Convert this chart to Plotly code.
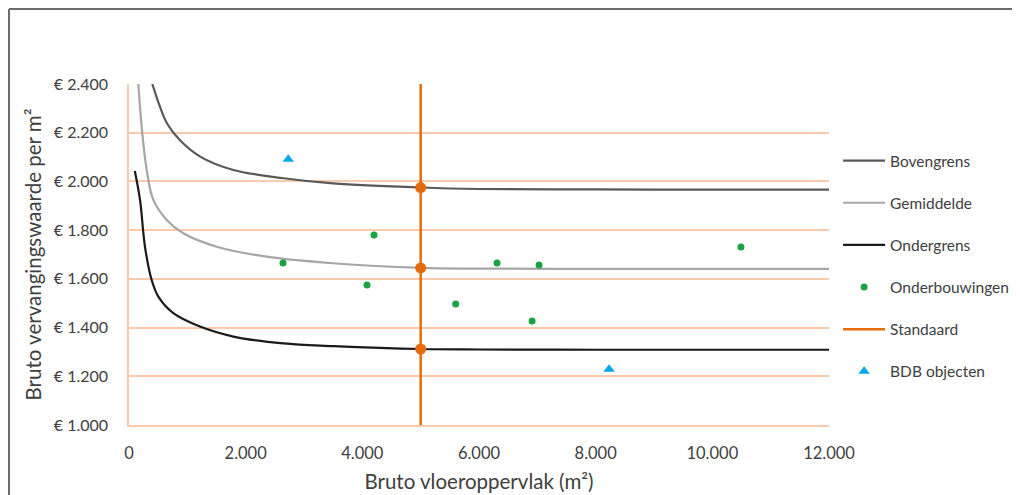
import plotly.graph_objects as go

# ---- data ----
boven_x = [400, 530, 650, 870, 1220, 1790, 2650, 3500, 5000, 6000, 8000, 10000, 12000]
boven_y = [2400, 2307, 2239, 2170, 2102, 2047, 2013, 1992, 1975, 1969, 1967, 1966, 1966]

gem_x = [160, 217, 303, 417, 646, 931, 1503, 2360, 3500, 5000, 6000, 8000, 10000, 12000]
gem_y = [2400, 2225, 2047, 1924, 1842, 1787, 1732, 1691, 1664, 1645, 1642, 1641, 1641, 1641]

onder_x = [100, 189, 274, 389, 503, 760, 1217, 1789, 2646, 3503, 5000, 6000, 8000, 10000, 12000]
onder_y = [2043, 1924, 1732, 1595, 1527, 1459, 1404, 1363, 1335, 1324, 1312, 1310, 1309, 1309, 1309]

onderb_x = [2640, 4200, 4080, 5600, 6310, 7030, 6910, 10490]
onderb_y = [1665, 1780, 1575, 1497, 1665, 1657, 1427, 1731]

standaard_x = [5000, 5000]
standaard_y = [1000, 2400]
standaard_pts_x = [5000, 5000, 5000]
standaard_pts_y = [1975, 1645, 1312]

bdb_x = [2730, 8230]
bdb_y = [2091, 1229]

y_ticks = [1000, 1200, 1400, 1600, 1800, 2000, 2200, 2400]
y_labels = ["€ 1.000", "€ 1.200", "€ 1.400", "€ 1.600", "€ 1.800", "€ 2.000", "€ 2.200", "€ 2.400"]
x_ticks = [0, 2000, 4000, 6000, 8000, 10000, 12000]
x_labels = ["0", "2.000", "4.000", "6.000", "8.000", "10.000", "12.000"]

FONT = "Lato"
TXT = "#404040"
GRID = "#f8cbad"
ORANGE = "#e46c0a"

fig = go.Figure()
fig.add_trace(go.Scatter(x=boven_x, y=boven_y, mode="lines", name="Bovengrens",
                         line=dict(color="#595959", width=2.2, shape="spline"), legendgroup="a"))
fig.add_trace(go.Scatter(x=gem_x, y=gem_y, mode="lines", name="Gemiddelde",
                         line=dict(color="#a6a6a6", width=2.2, shape="spline"), legendgroup="b"))
fig.add_trace(go.Scatter(x=onder_x, y=onder_y, mode="lines", name="Ondergrens",
                         line=dict(color="#1a1a1a", width=2.2, shape="spline"), legendgroup="c"))
fig.add_trace(go.Scatter(x=onderb_x, y=onderb_y, mode="markers", name="Onderbouwingen",
                         marker=dict(color="#1aa342", size=7), legendgroup="d"))
fig.add_trace(go.Scatter(x=standaard_x, y=standaard_y, mode="lines", name="Standaard",
                         line=dict(color=ORANGE, width=2.5), legendgroup="e"))
fig.add_trace(go.Scatter(x=standaard_pts_x, y=standaard_pts_y, mode="markers", showlegend=False,
                         marker=dict(color=ORANGE, size=11), legendgroup="e"))
fig.add_trace(go.Scatter(x=bdb_x, y=bdb_y, mode="markers", name="BDB objecten",
                         marker=dict(color="#00a8e8", size=10, symbol="triangle-up"), legendgroup="f"))

# outer frame (left and top edges visible in the reference)
fig.add_shape(type="line", xref="paper", yref="paper", x0=-0.1714, x1=-0.1714, y0=-0.4, y1=1.2199,
              line=dict(color="#6b6b6b", width=2))
fig.add_shape(type="line", xref="paper", yref="paper", x0=-0.1714, x1=1.4, y0=1.2199, y1=1.2199,
              line=dict(color="#6b6b6b", width=2))

fig.update_layout(
    width=1020, height=495,
    margin=dict(l=121, r=199, t=76, b=78, autoexpand=False),
    paper_bgcolor="white", plot_bgcolor="white",
    font=dict(family=FONT, color=TXT, size=14),
    legend=dict(x=1.013, y=0.824, xanchor="left", yanchor="top",
                font=dict(family=FONT, size=15.5, color=TXT),
                tracegroupgap=19, itemwidth=42, bgcolor="rgba(0,0,0,0)"),
    xaxis=dict(range=[0, 12000], tickvals=x_ticks, ticktext=x_labels, showgrid=False,
               zeroline=False, showline=True, linecolor=GRID, linewidth=1.5, ticks="",
               tickfont=dict(size=16.5, color=TXT), ticklabelstandoff=12,
               title=dict(text="Bruto vloeroppervlak (m²)", font=dict(size=20.5, color=TXT), standoff=13)),
    yaxis=dict(range=[1000, 2400], tickvals=y_ticks, ticktext=y_labels, showgrid=True,
               gridcolor=GRID, gridwidth=1.5, zeroline=False, showline=True, linecolor=GRID,
               linewidth=1.5, ticks="", tickfont=dict(size=16, color=TXT), ticklabelstandoff=16,
               title=dict(text="Bruto vervangingswaarde per m²", font=dict(size=20.5, color=TXT), standoff=7)),
)

fig.write_html("out.html")
